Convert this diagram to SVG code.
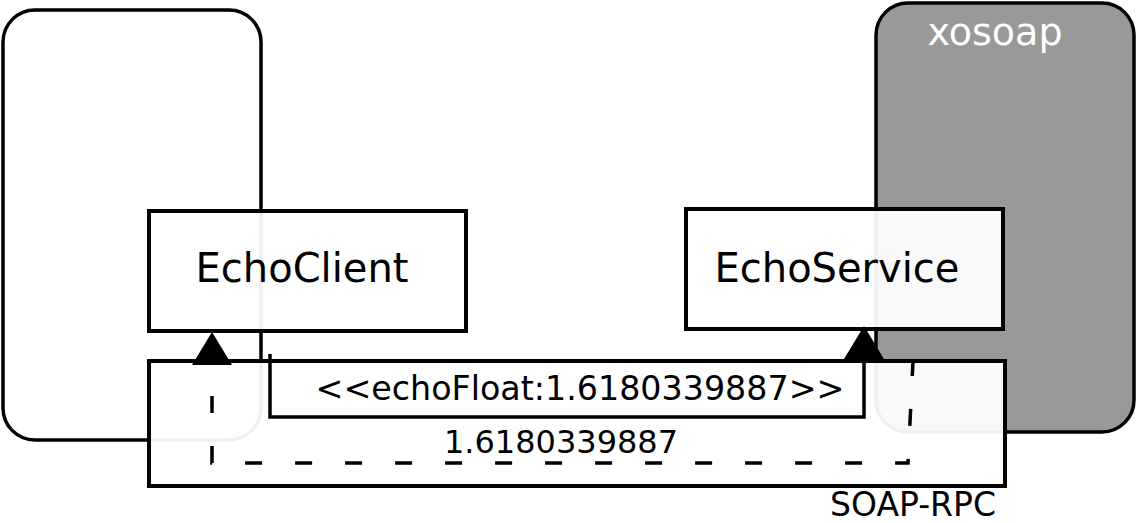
<svg xmlns="http://www.w3.org/2000/svg" width="1136" height="523" viewBox="0 0 1136 523">
  <style>
    .lbl { font-family: "DejaVu Sans", sans-serif; fill: #000; }
    .box { fill: #ffffff; fill-opacity: 0.94; stroke: #000; stroke-width: 4; }
    .conn { fill: none; stroke: #000; stroke-width: 3.5; }
  </style>
  <defs>
    <marker id="arrow" viewBox="0 0 33 40" refX="0" refY="20" markerWidth="33" markerHeight="40" markerUnits="userSpaceOnUse" orient="auto">
      <path d="M0,0 L33,20 L0,40 Z" fill="#000"/>
    </marker>
  </defs>
  <rect width="1136" height="523" fill="#fff"/>
  <g id="client-package">
    <rect x="3" y="10" width="258" height="430" rx="32" ry="32" fill="#fff" stroke="#000" stroke-width="3.5"/>
  </g>
  <g id="xosoap">
    <rect x="876" y="3" width="258" height="429" rx="32" ry="32" fill="#999999" stroke="#000" stroke-width="3.5"/>
    <text x="995" y="45" font-size="38" text-anchor="middle" font-family="DejaVu Sans, sans-serif" fill="#fff">xosoap</text>
  </g>
  <g id="soap-rpc">
    <rect class="box" x="149" y="361" width="856" height="125"/>
    <text class="lbl" x="913" y="516" font-size="33" text-anchor="middle">SOAP-RPC</text>
  </g>
  <g id="echoclient">
    <rect class="box" x="149" y="211" width="317" height="120"/>
    <text class="lbl" x="302" y="282" font-size="40" text-anchor="middle">EchoClient</text>
  </g>
  <g id="echoservice">
    <rect class="box" x="686" y="209" width="317" height="120"/>
    <text class="lbl" x="837" y="282" font-size="40" text-anchor="middle">EchoService</text>
  </g>
  <g id="connectors">
    <path class="conn" d="M270,354 L270,417 L864,417 L864,359" marker-end="url(#arrow)"/>
    <text class="lbl" x="580" y="400" font-size="33.3" text-anchor="middle">&lt;&lt;echoFloat:1.6180339887&gt;&gt;</text>
    <path class="conn" d="M913,361 L908,463 L212,463 L212,366" stroke-dasharray="17 33" stroke-dashoffset="2"/>
    <path d="M212,366 L212,365" fill="none" stroke="none" marker-end="url(#arrow)"/>
    <text class="lbl" x="561" y="453" font-size="32" text-anchor="middle">1.6180339887</text>
  </g>
</svg>
